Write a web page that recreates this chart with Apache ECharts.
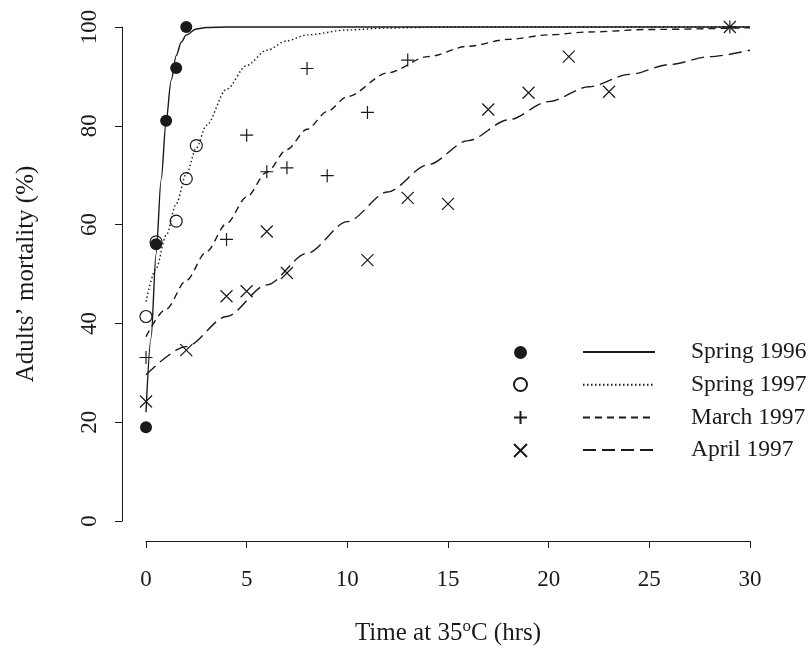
<!DOCTYPE html>
<html>
<head>
<meta charset="utf-8">
<script src="https://cdn.jsdelivr.net/npm/echarts@6/dist/echarts.min.js"></script>
<style>
  html, body { margin: 0; padding: 0; background: #fff; }
  #chart { width: 812px; height: 653px; }
</style>
</head>
<body>
<div id="chart"></div>
<script>
// observed mortality (%) vs hours at 35C
const spring96 = [[0, 19], [0.5, 56], [1, 81], [1.5, 91.7], [2, 100]];
const spring97 = [[0, 41.4], [0.5, 56.5], [1.5, 60.7], [2, 69.3], [2.5, 76]];
const march97 = [[0, 33.1], [4, 57], [5, 78.1], [6, 70.7], [7, 71.5], [8, 91.6], [9, 69.9], [11, 82.7], [13, 93.3], [29, 100]];
const april97 = [[0, 24.2], [2, 34.6], [4, 45.5], [5, 46.5], [6, 58.6], [7, 50.2], [11, 52.8], [13, 65.4], [15, 64.2], [17, 83.3], [19, 86.7], [21, 94], [23, 86.9], [29, 100]];

// fitted curves
const spring96Fit = [[0, 22], [0.25, 37], [0.5, 54], [0.75, 69], [1, 81], [1.25, 89.2], [1.5, 94.2], [1.75, 96.9], [2, 98.4], [2.5, 99.6], [3, 99.9], [4, 100], [30, 100]];
const spring97Fit = [[0, 44.4], [0.5, 51.1], [1, 57.8], [1.5, 64.2], [2, 70.2], [2.5, 75.5], [3, 80.1], [4, 87.4], [5, 92.2], [6, 95.3], [7, 97.2], [8, 98.4], [10, 99.4], [12, 99.8], [15, 100], [30, 100]];
const march97Fit = [[0, 37.3], [1, 42.9], [2, 48.7], [3, 54.5], [4, 60.2], [5, 65.6], [6, 70.6], [7, 75.2], [8, 79.3], [9, 82.9], [10, 85.9], [12, 90.7], [14, 94], [16, 96.1], [18, 97.5], [20, 98.4], [22, 99], [25, 99.5], [30, 99.85]];
const april97Fit = [[0, 29.6], [2, 35.3], [4, 41.4], [6, 47.8], [8, 54.2], [10, 60.6], [12, 66.6], [14, 72.1], [16, 77], [18, 81.2], [20, 84.9], [22, 87.9], [24, 90.4], [26, 92.4], [28, 94], [30, 95.3]];

const seriesNames = ["Spring 1996", "Spring 1997", "March 1997", "April 1997"];
const xTicks = [0, 30, 5];
const yTicks = [0, 100, 20];

const ink = "#1a1a1a";
const font = "Liberation Serif";
const plusPath = "path://M5,0L5,10M0,5L10,5";
const crossPath = "path://M0,0L10,10M0,10L10,0";

const chart = echarts.init(document.getElementById("chart"));

function pts(name, data, symbol, size, fill) {
  return {
    name: name + " obs",
    type: "scatter",
    data: data,
    symbol: symbol,
    symbolSize: size,
    itemStyle: { color: fill, opacity: 1, borderColor: ink, borderWidth: fill === ink ? 0 : 1.2 },
    z: 3,
  };
}

function fit(name, data, dash) {
  return {
    name: name,
    type: "line",
    data: data,
    showSymbol: false,
    symbol: "none",
    smooth: 0.3,
    smoothMonotone: "x",
    clip: false,
    lineStyle: { color: ink, width: 1.4, type: dash },
    itemStyle: { color: ink },
    z: 2,
  };
}

const option = {
  animation: false,
  backgroundColor: "#fff",
  textStyle: { fontFamily: font, color: ink },
  grid: { left: 146, right: 62, top: 27, bottom: 132 },
  xAxis: {
    type: "value",
    min: xTicks[0],
    max: xTicks[1],
    interval: xTicks[2],
    offset: 20,
    name: "Time at 35{sup|o}C (hrs)",
    nameLocation: "middle",
    nameGap: 77,
    nameTextStyle: {
      fontFamily: font, fontSize: 25, color: ink,
      rich: { sup: { fontFamily: font, fontSize: 17, color: ink, verticalAlign: "top", padding: [0, 0, 13, 0] } },
    },
    axisLine: { onZero: false, lineStyle: { color: ink, width: 1 } },
    axisTick: { length: 7, lineStyle: { color: ink } },
    axisLabel: { fontFamily: font, fontSize: 23, color: ink, margin: 27 },
    splitLine: { show: false },
  },
  yAxis: {
    type: "value",
    min: yTicks[0],
    max: yTicks[1],
    interval: yTicks[2],
    offset: 24,
    name: "Adults\u2019 mortality (%)",
    nameLocation: "middle",
    nameGap: 83,
    nameTextStyle: { fontFamily: font, fontSize: 25, color: ink },
    axisLine: { show: true, onZero: false, lineStyle: { color: ink, width: 1 } },
    axisTick: { show: true, length: 7, lineStyle: { color: ink } },
    axisLabel: { fontFamily: font, fontSize: 23, color: ink, rotate: 90, margin: 21 },
    splitLine: { show: false },
  },
  legend: [
    {
      orient: "vertical",
      left: 508,
      top: 341,
      itemWidth: 13,
      itemHeight: 13,
      itemGap: 18,
      data: seriesNames.map((n) => n + " obs"),
      formatter: () => "",
      selectedMode: false,
    },
    {
      orient: "vertical",
      left: 577,
      top: 335,
      itemWidth: 72,
      itemHeight: 24,
      itemGap: 8.7,
      data: seriesNames,
      selectedMode: false,
      itemStyle: { color: "transparent", borderColor: "transparent", borderWidth: 0, opacity: 0 },
      textStyle: { fontFamily: font, fontSize: 23.5, color: ink, padding: [0, 0, 0, 31] },
    },
  ],
  series: [
    fit(seriesNames[0], spring96Fit, "solid"),
    fit(seriesNames[1], spring97Fit, [1.5, 2.5]),
    fit(seriesNames[2], march97Fit, [7, 5]),
    fit(seriesNames[3], april97Fit, [13, 6]),
    pts(seriesNames[0], spring96, "circle", 12, ink),
    pts(seriesNames[1], spring97, "circle", 12, "transparent"),
    pts(seriesNames[2], march97, plusPath, 13, "transparent"),
    pts(seriesNames[3], april97, crossPath, 12, "transparent"),
  ],
};

chart.setOption(option);
</script>
</body>
</html>
